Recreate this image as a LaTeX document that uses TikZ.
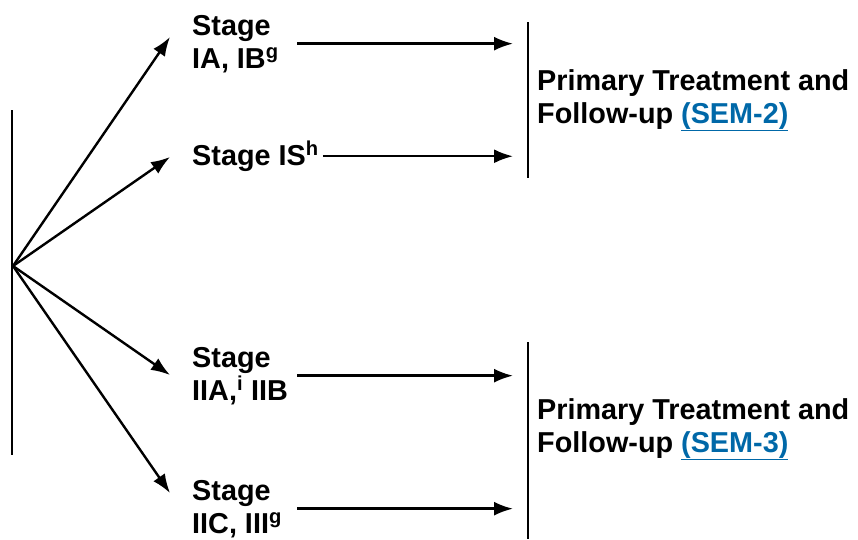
\documentclass[tikz,border=0pt]{standalone}
\usepackage{fontspec}
\setmainfont{Liberation Sans}
\usepackage{xcolor}
\definecolor{semblue}{RGB}{0,104,168}
\usetikzlibrary{arrows.meta,positioning,calc}

\begin{document}
\begin{tikzpicture}[x=1pt,y=-1pt,
    stagetext/.style={anchor=base west,inner sep=0pt,align=left,
      font=\fontsize{28.8}{33}\selectfont\bfseries},
    arr/.style={line width=2.4pt,-{Latex[length=19pt,width=14pt]}},
    bar/.style={line width=2.4pt}]
  \useasboundingbox (0,0) rectangle (858,539);
  % Parameters
  \def\gap{15pt}  % space between arrow tips and right bars
  % Left bar and branch point
  \coordinate (ltop) at (12,110);
  \coordinate (lbot) at (12,455);
  \coordinate (src) at (13,266);
  % Tips of the branch arrows
  \coordinate (tA) at (170,37);
  \coordinate (tB) at (170,157);
  \coordinate (tC) at (170,375);
  \coordinate (tD) at (170,493);
  % Start of horizontal arrows
  \coordinate (astart) at (297,0);
  % Right bars
  \coordinate (b1top) at (528,22);
  \coordinate (b1bot) at (528,178);
  \coordinate (b2top) at (528,342);
  \coordinate (b2bot) at (528,539);
  % Stage labels (base = last line)
  \node[stagetext] (ia) at (192,68) {Stage\\IA, IB\textsuperscript{g}};
  \node[stagetext] (is) at (192,165) {Stage IS\textsuperscript{h}};
  \node[stagetext] (iia) at (192,400) {Stage\\IIA,\textsuperscript{i} IIB};
  \node[stagetext] (iic) at (192,533) {Stage\\IIC, III\textsuperscript{g}};
  % Treatment labels
  \node[stagetext] (sem2) at (537,123)
    {Primary Treatment and\\Follow-up \textcolor{semblue}{\underline{(SEM-2)}}};
  \node[stagetext] (sem3) at (537,452)
    {Primary Treatment and\\Follow-up \textcolor{semblue}{\underline{(SEM-3)}}};
  % Bars
  \draw[bar] (ltop) -- (lbot);
  \draw[bar] (b1top) -- (b1bot);
  \draw[bar] (b2top) -- (b2bot);
  % Branch arrows
  \foreach \t in {tA,tB,tC,tD}
    \draw[arr] (src) -- (\t);
  % Horizontal arrows
  \draw[arr,shorten >=\gap] (ia.east -| astart) -- (ia.east -| b1top);
  \draw[arr,shorten >=\gap] ([xshift=4pt]is.east) -- (is.east -| b1top);
  \draw[arr,shorten >=\gap] (iia.east -| astart) -- (iia.east -| b2top);
  \draw[arr,shorten >=\gap] (iic.east -| astart) -- (iic.east -| b2top);
\end{tikzpicture}
\end{document}
